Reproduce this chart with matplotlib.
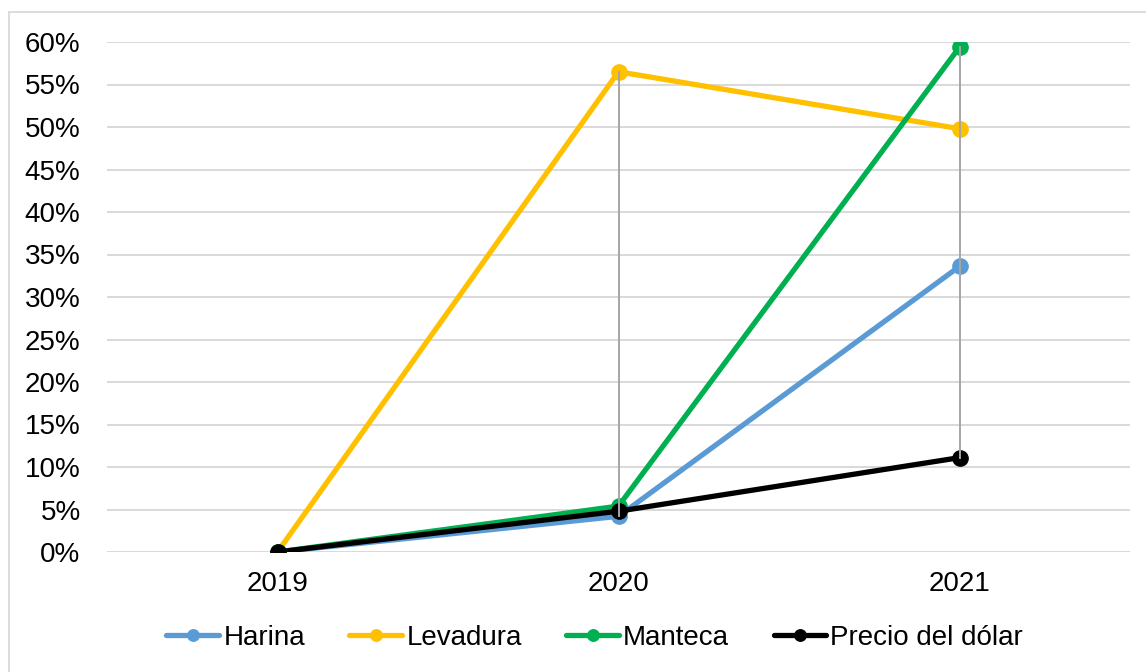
import matplotlib
matplotlib.use("Agg")
import matplotlib.pyplot as plt
from matplotlib.patches import Rectangle
from matplotlib.ticker import PercentFormatter

plt.rcParams['font.family'] = ['Liberation Sans', 'DejaVu Sans']

years = ["2019", "2020", "2021"]
harina = [0.0, 4.2, 33.6]
levadura = [0.0, 56.5, 49.8]
manteca = [0.0, 5.4, 59.4]
dolar = [0.0, 4.8, 11.1]

series = [
    ("Harina", harina, "#5B9BD5"),
    ("Levadura", levadura, "#FFC000"),
    ("Manteca", manteca, "#00B050"),
    ("Precio del dólar", dolar, "#000000"),
]

fig = plt.figure(figsize=(11.46, 6.72), dpi=100)
ax = fig.add_axes([107 / 1146, 120 / 672, 1023 / 1146, 510 / 672])

x = list(range(len(years)))

# high-low drop lines at each category
for i in x:
    vals = [s[1][i] for s in series]
    hi, lo = max(vals), min(vals)
    if hi > lo:
        ax.plot([i, i], [lo, hi], color="#A6A6A6", lw=1.4, zorder=5)

for name, vals, color in series:
    ax.plot(x, vals, color=color, lw=3.8, marker="o", markersize=11,
            solid_capstyle="round", label=name, zorder=3)

ax.set_xlim(-0.5, 2.5)
ax.set_ylim(0, 60)
ax.set_yticks(range(0, 61, 5))
ax.yaxis.set_major_formatter(PercentFormatter(decimals=0))
ax.set_xticks(x)
ax.set_xticklabels(years)
ax.grid(axis="y", color="#D9D9D9", lw=1.4)
ax.set_axisbelow(True)
for sp in ax.spines.values():
    sp.set_visible(False)
ax.tick_params(length=0, labelsize=20, colors="#000000")
ax.tick_params(axis="y", pad=19)
ax.tick_params(axis="x", pad=14)

leg = fig.legend(loc="center", bbox_to_anchor=(0.519, 1 - 638 / 672), ncol=4,
                 frameon=False, fontsize=20, handlelength=1.9,
                 handletextpad=0.15, columnspacing=1.6, markerscale=0.75)

fig.patches.append(Rectangle((9 / 1146, -0.05), 1.1, 1 - 12 / 672 + 0.05,
                             transform=fig.transFigure, fill=False,
                             edgecolor="#D9D9D9", lw=1.3))

fig.savefig("out.png", dpi=100)
